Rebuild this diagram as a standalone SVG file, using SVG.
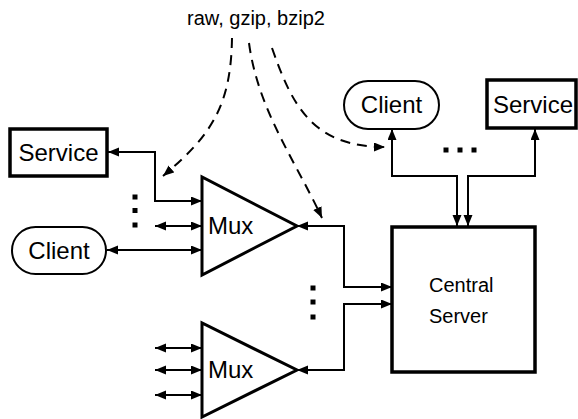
<svg xmlns="http://www.w3.org/2000/svg" width="578" height="419" viewBox="0 0 578 419">
  <style>
    text { font-family: "Liberation Sans", Arial, sans-serif; fill: #000; }
    .big { font-size: 24px; }
    .mid { font-size: 20px; }
    .box { fill: #fff; stroke: #000; stroke-width: 3.5; }
    .oval { fill: #fff; stroke: #000; stroke-width: 2; }
    .mux { fill: #fff; stroke: #000; stroke-width: 3; stroke-linejoin: miter; }
    .wire { fill: none; stroke: #000; stroke-width: 2; marker-start: url(#head); marker-end: url(#head); }
    .dash { fill: none; stroke: #000; stroke-width: 2; stroke-dasharray: 10 7; marker-end: url(#head); }
    .dot { fill: #000; }
  </style>
  <defs>
    <marker id="head" markerUnits="userSpaceOnUse" markerWidth="12" markerHeight="10" refX="11" refY="4.5" orient="auto-start-reverse">
      <path d="M0,0 L11,4.5 L0,9 z" fill="#000"/>
    </marker>
  </defs>

  <rect width="578" height="419" fill="#fff"/>

  <!-- connectors -->
  <g id="connectors">
    <path class="wire" d="M108,152 H155 V201 H202"/>
    <path class="wire" d="M155,226 H202"/>
    <path class="wire" d="M107,250 H202"/>
    <path class="wire" d="M297,226 H344 V287 H392"/>
    <path class="wire" d="M155,348 H202"/>
    <path class="wire" d="M155,370 H202"/>
    <path class="wire" d="M155,395 H202"/>
    <path class="wire" d="M297,370 H344 V304 H392"/>
    <path class="wire" d="M392,129 V176 H457 V226"/>
    <path class="wire" d="M535,129 V176 H468 V226"/>
    <path class="dash" d="M232,38 C231,105 212,135 163,176"/>
    <path class="dash" d="M249,43 C258,110 295,160 322,218"/>
    <path class="dash" d="M272,48 C292,105 312,147 385,147"/>
  </g>

  <!-- ellipsis dots -->
  <g id="dots">
    <rect class="dot" x="132.5" y="194.5" width="5" height="5"/>
    <rect class="dot" x="132.5" y="208" width="5" height="5"/>
    <rect class="dot" x="132.5" y="222.5" width="5" height="5"/>
    <rect class="dot" x="310.5" y="285.5" width="5" height="5"/>
    <rect class="dot" x="310.5" y="299.5" width="5" height="5"/>
    <rect class="dot" x="310.5" y="314.5" width="5" height="5"/>
    <rect class="dot" x="443.5" y="147.5" width="5" height="5"/>
    <rect class="dot" x="457.5" y="147.5" width="5" height="5"/>
    <rect class="dot" x="471.5" y="147.5" width="5" height="5"/>
  </g>

  <text id="label" class="mid" x="256" y="25" text-anchor="middle">raw, gzip, bzip2</text>

  <g id="service-left">
    <rect class="box" x="10" y="129" width="97" height="47"/>
    <text class="big" x="58.5" y="161" text-anchor="middle">Service</text>
  </g>

  <g id="client-left">
    <rect class="oval" x="12" y="227" width="94" height="47" rx="23.5"/>
    <text class="big" x="59" y="259" text-anchor="middle">Client</text>
  </g>

  <g id="mux-1">
    <path class="mux" d="M202,177 L202,275 L297,226 z"/>
    <text class="big" x="208" y="234">Mux</text>
  </g>

  <g id="mux-2">
    <path class="mux" d="M202,323 L202,417 L297,370 z"/>
    <text class="big" x="208" y="378">Mux</text>
  </g>

  <g id="client-right">
    <rect class="oval" x="344" y="81" width="95" height="48" rx="24"/>
    <text class="big" x="391.5" y="113" text-anchor="middle">Client</text>
  </g>

  <g id="service-right">
    <rect class="box" x="487" y="80" width="89" height="48"/>
    <text class="big" x="533" y="113" text-anchor="middle">Service</text>
  </g>

  <g id="central-server">
    <rect class="box" x="392" y="227" width="143" height="145"/>
    <text class="mid" x="429" y="292">Central</text>
    <text class="mid" x="429" y="323">Server</text>
  </g>
</svg>
